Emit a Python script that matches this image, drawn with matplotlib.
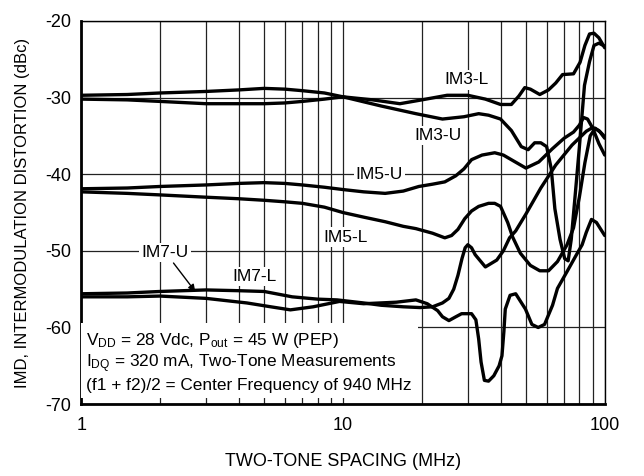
import numpy as np
import matplotlib
matplotlib.use("Agg")
import matplotlib.pyplot as plt
from matplotlib.ticker import FixedLocator, NullFormatter

plt.rcParams['font.family'] = ['Liberation Sans', 'DejaVu Sans']
plt.rcParams['mathtext.fontset'] = 'custom'
plt.rcParams['mathtext.rm'] = 'Liberation Sans'
plt.rcParams['mathtext.default'] = 'regular'
plt.rcParams['axes.unicode_minus'] = False

### data (frequency in MHz, IMD in dBc) ###
im3l_f = [1, 1.5, 2, 3, 4, 5, 6, 7, 8.5, 10, 13, 16.5, 20, 25, 30, 35, 40, 44, 47, 49.5,
          52, 56.5, 61, 65, 69, 76, 80.5, 84, 87.5, 91, 95, 100]
im3l_db = [-30.2, -30.3, -30.5, -30.8, -30.8, -30.8, -30.7, -30.5, -30.2, -29.9, -30.3, -30.8,
           -30.3, -29.7, -29.7, -30.2, -30.9, -30.9, -29.8, -28.7, -28.9, -29.6, -29.0, -28.1,
           -27.0, -26.9, -25.4, -23.2, -21.7, -21.6, -22.2, -23.5]

im3u_f = [1, 1.5, 2, 3, 4, 5, 6, 7, 8.5, 10, 14, 19, 24, 29, 33, 36, 40, 44, 48, 51, 54, 57,
          60, 62.5, 64.5, 67.5, 70.3, 72.5, 74.5, 77, 80, 83.7, 87.5, 91, 95, 100]
im3u_db = [-29.7, -29.6, -29.4, -29.2, -29.0, -28.8, -28.9, -29.1, -29.4, -29.9, -31.1, -32.1,
           -32.8, -32.5, -32.1, -32.3, -32.8, -34.3, -36.4, -36.8, -35.9, -35.9, -36.4, -39.3,
           -44.5, -48.5, -51.0, -51.3, -48.5, -43.0, -36.5, -28.4, -25.3, -23.2, -22.9, -23.3]

im5u_f = [1, 1.5, 2, 3, 4, 5, 6, 7, 8.5, 10, 12, 14.5, 17, 19.5, 22, 24.5, 27, 29, 31, 34, 38,
          41, 45, 50, 56, 63, 70, 76, 80, 83, 86, 90, 95, 100]
im5u_db = [-41.9, -41.8, -41.6, -41.4, -41.2, -41.1, -41.2, -41.4, -41.7, -42.0, -42.3, -42.5,
           -42.2, -41.6, -41.3, -41.0, -40.2, -39.3, -38.1, -37.5, -37.2, -37.5, -38.3, -39.2,
           -38.4, -36.7, -35.3, -34.5, -33.6, -32.6, -32.8, -34.0, -36.0, -37.5]

im5l_f = [1, 1.5, 2, 3, 4, 5, 6, 7, 8.5, 10, 12, 14.5, 17, 19, 22, 24.5, 26, 27.5, 29.2, 31,
          33, 36, 38, 40, 42.6, 44.5, 47.6, 52, 56.5, 61, 66, 71.8, 76, 80, 84, 88, 92, 96, 100]
im5l_db = [-42.3, -42.5, -42.7, -43.0, -43.2, -43.4, -43.6, -43.8, -44.3, -45.0, -45.6, -46.2,
           -46.8, -47.1, -47.7, -48.3, -48.0, -47.2, -45.8, -44.8, -44.2, -43.8, -43.8, -44.2,
           -46.3, -48.2, -50.3, -51.9, -52.6, -52.6, -51.4, -49.2, -47.0, -43.0, -38.5, -35.0,
           -34.0, -34.5, -35.3]

im7l_f = [1, 1.5, 2, 3, 4, 5, 6.4, 8, 9.5, 12, 14, 17, 19.7, 22, 24, 25.4, 26.5, 27.5, 28.5,
          29.3, 30, 31, 32, 35, 38.7, 41, 43.3, 45.7, 50, 57, 65, 75, 85, 90, 95, 100]
im7l_db = [-55.6, -55.5, -55.3, -55.1, -55.2, -55.3, -56.0, -56.3, -56.4, -56.8, -57.1, -57.3,
           -57.4, -57.3, -56.8, -56.2, -55.0, -53.2, -51.0, -49.6, -49.2, -49.6, -50.5, -52.1,
           -51.2, -50.0, -48.3, -47.4, -45.2, -41.8, -38.8, -36.2, -34.4, -33.9, -34.3, -35.1]

im7u_f = [1, 1.5, 2, 3, 4.3, 5.3, 6.3, 7.7, 9.7, 12, 16, 19, 21, 23, 24, 25.4, 27, 28.4, 31,
          32.2, 33, 33.7, 34.7, 36, 37.7, 39.5, 40.5, 41.2, 41.7, 43.5, 45.7, 49.8, 52.7, 55.7,
          58.9, 63.2, 66, 71.8, 78, 82, 85, 89, 93, 100]
im7u_db = [-56.0, -56.0, -55.9, -56.2, -56.8, -57.3, -57.7, -57.3, -56.6, -56.9, -56.7, -56.4,
           -56.9, -57.8, -58.6, -59.1, -58.6, -58.2, -58.2, -59.0, -61.5, -64.5, -66.9, -67.0,
           -66.3, -65.0, -63.7, -60.5, -57.6, -55.8, -55.6, -57.6, -59.6, -60.0, -59.6, -57.1,
           -54.9, -52.7, -50.5, -49.2, -47.6, -45.9, -46.3, -48.0]

series = [(im3l_f, im3l_db), (im3u_f, im3u_db), (im5u_f, im5u_db),
          (im5l_f, im5l_db), (im7l_f, im7l_db), (im7u_f, im7u_db)]

# curve labels: text, x (MHz), y (dBc)
labels = [("IM3-L", 29.7, -27.7), ("IM3-U", 23.0, -34.9), ("IM5-U", 13.8, -40.1),
          ("IM5-L", 10.2, -48.2), ("IM7-U", 2.09, -50.2), ("IM7-L", 4.6, -53.3)]

yticks = [-70, -60, -50, -40, -30, -20]
xticks = [1, 10, 100]
xminor = [2, 3, 4, 5, 6, 7, 8, 9, 20, 30, 40, 50, 60, 70, 80, 90]

fig = plt.figure(figsize=(6.44, 4.76), dpi=100)
ax = fig.add_axes([0.126, 0.151, 0.813, 0.805])

for f, db in series:
    ax.plot(f, db, color='black', lw=2.4, solid_joinstyle='round', solid_capstyle='round',
            zorder=3)

ax.set_xscale('log')
ax.set_xlim(1, 100)
ax.set_ylim(-70, -20)
ax.xaxis.set_major_locator(FixedLocator(xticks))
ax.xaxis.set_minor_locator(FixedLocator(xminor))
ax.xaxis.set_minor_formatter(NullFormatter())
ax.set_xticklabels([str(t) for t in xticks])
ax.set_yticks(yticks)
ax.set_yticklabels([str(t) for t in yticks])
ax.tick_params(axis='both', which='both', length=0, labelsize=13)
ax.tick_params(axis='x', pad=9)
ax.tick_params(axis='y', pad=7)

ax.grid(True, which='both', axis='x', color='#222222', lw=0.9, zorder=1)
ax.grid(True, which='major', axis='y', color='#222222', lw=0.9, zorder=1)

for side in ['top', 'right']:
    ax.spines[side].set_linewidth(1.0)
for side in ['left', 'bottom']:
    ax.spines[side].set_linewidth(2.0)

ax.set_xlabel('TWO-TONE SPACING (MHz)', fontsize=13, labelpad=14)
ax.set_ylabel('IMD, INTERMODULATION DISTORTION (dBc)', fontsize=12, labelpad=11)

for txt, x, y in labels:
    ax.text(x, y, txt, fontsize=12.5, ha='center', va='center', zorder=4,
            bbox=dict(facecolor='white', edgecolor='none', pad=1.5))

ax.annotate('', xy=(2.77, -55.6), xytext=(2.22, -51.3),
            arrowprops=dict(arrowstyle='-|>', color='black', lw=1.0,
                            mutation_scale=10), zorder=4)

note = ("V$_{DD}$ = 28 Vdc, P$_{out}$ = 45 W (PEP)\n"
        "I$_{DQ}$ = 320 mA, Two-Tone Measurements\n"
        "(f1 + f2)/2 = Center Frequency of 940 MHz")
ax.text(0.01, 0.03, note, transform=ax.transAxes, fontsize=12.4, ha='left', va='bottom',
        linespacing=1.2, zorder=4,
        bbox=dict(facecolor='white', edgecolor='none', pad=4))

plt.savefig('out.png', dpi=100)
